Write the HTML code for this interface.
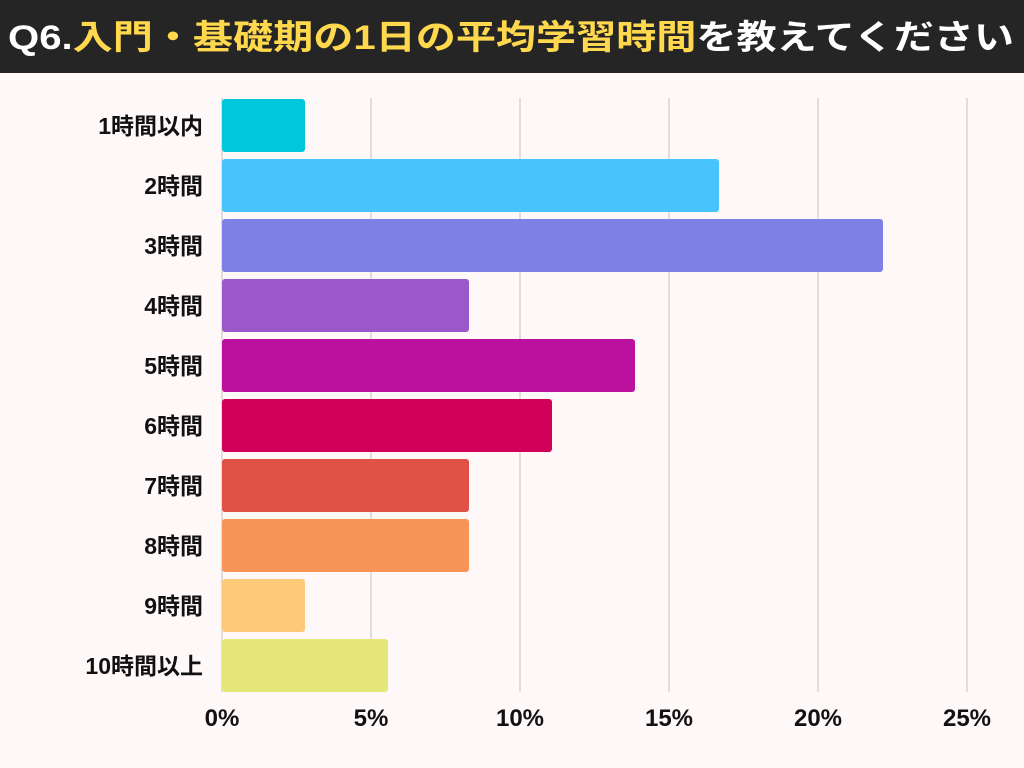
<!DOCTYPE html>
<html><head><meta charset="utf-8"><style>
body{margin:0;width:1024px;height:768px;overflow:hidden;background:#fff8f8}
svg{display:block}
</style></head><body>
<svg width="1024" height="768" xmlns="http://www.w3.org/2000/svg" font-family="'Liberation Sans','Noto Sans CJK JP',sans-serif" font-weight="bold">
<rect x="0" y="0" width="1024" height="768" fill="#fff8f8"/>
<rect x="0" y="0" width="1024" height="73" fill="#252525"/>
<text x="8" y="49" font-size="34" textLength="1006" lengthAdjust="spacingAndGlyphs"><tspan fill="#ffffff">Q6.</tspan><tspan fill="#ffd84d">入門・基礎期の1日の平均学習時間</tspan><tspan fill="#ffffff">を教えてください</tspan></text>
<g stroke="#d8d4d4" stroke-width="1.5">
<line x1="222" y1="98" x2="222" y2="692"/>
<line x1="371" y1="98" x2="371" y2="692"/>
<line x1="520" y1="98" x2="520" y2="692"/>
<line x1="669" y1="98" x2="669" y2="692"/>
<line x1="818" y1="98" x2="818" y2="692"/>
<line x1="967" y1="98" x2="967" y2="692"/>
</g>
<g>
<rect x="222" y="99" width="83" height="53" rx="3" fill="#00c8da"/>
<rect x="222" y="159" width="497" height="53" rx="3" fill="#48c4fd"/>
<rect x="222" y="219" width="661" height="53" rx="3" fill="#7f80e6"/>
<rect x="222" y="279" width="247" height="53" rx="3" fill="#9a58cb"/>
<rect x="222" y="339" width="413" height="53" rx="3" fill="#ba129e"/>
<rect x="222" y="399" width="330" height="53" rx="3" fill="#d10058"/>
<rect x="222" y="459" width="247" height="53" rx="3" fill="#e05248"/>
<rect x="222" y="519" width="247" height="53" rx="3" fill="#f89556"/>
<rect x="222" y="579" width="83" height="53" rx="3" fill="#ffc97a"/>
<rect x="222" y="639" width="166" height="53" rx="3" fill="#e6e77a"/>
</g>
<g font-size="23" fill="#111" text-anchor="end">
<text x="203" y="134">1時間以内</text>
<text x="203" y="194">2時間</text>
<text x="203" y="254">3時間</text>
<text x="203" y="314">4時間</text>
<text x="203" y="374">5時間</text>
<text x="203" y="434">6時間</text>
<text x="203" y="494">7時間</text>
<text x="203" y="554">8時間</text>
<text x="203" y="614">9時間</text>
<text x="203" y="674">10時間以上</text>
</g>
<g font-size="24" fill="#111" text-anchor="middle">
<text x="222" y="726">0%</text>
<text x="371" y="726">5%</text>
<text x="520" y="726">10%</text>
<text x="669" y="726">15%</text>
<text x="818" y="726">20%</text>
<text x="967" y="726">25%</text>
</g>
</svg>
</body></html>
